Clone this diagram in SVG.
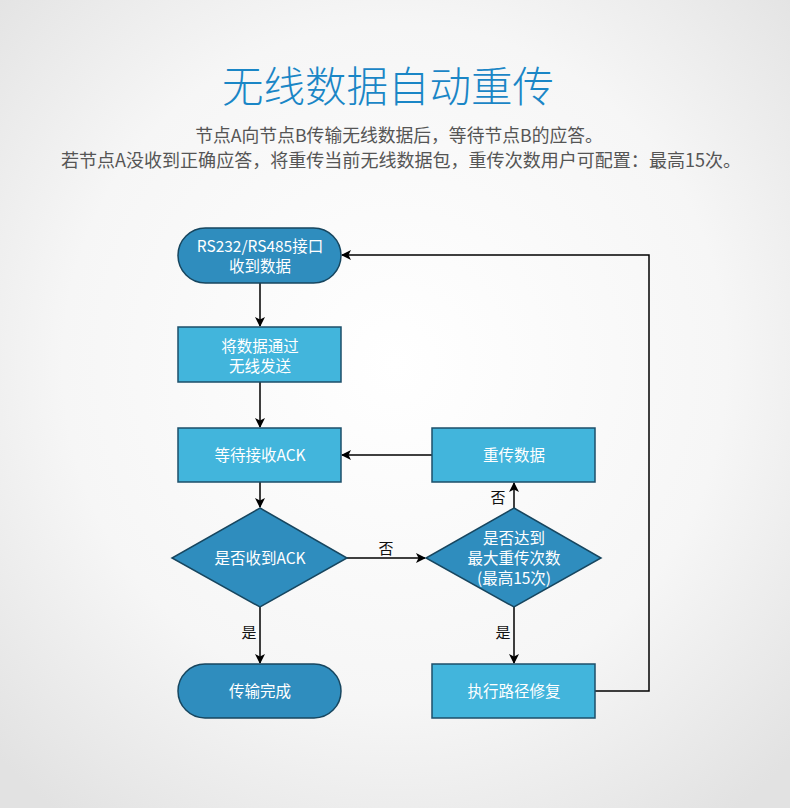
<svg xmlns="http://www.w3.org/2000/svg" width="790" height="808" viewBox="0 0 790 808">
<defs>
<radialGradient id="bg" cx="50%" cy="45%" r="70%">
<stop offset="0" stop-color="#ffffff"/>
<stop offset="0.6" stop-color="#f6f6f6"/>
<stop offset="1" stop-color="#e2e2e2"/>
</radialGradient>
<marker id="arr" viewBox="0 0 10 10" refX="9" refY="5" markerWidth="10" markerHeight="10" markerUnits="userSpaceOnUse" orient="auto">
<path d="M0,0 L10,5 L0,10 L2.5,5 Z" fill="#000"/>
</marker>
<style>
.term{fill:#2f8dbe;stroke:#17465f;stroke-width:1.5}
.box{fill:#42b5dc;stroke:#1d4f6a;stroke-width:1.5}
.dia{fill:#2f8dbe;stroke:#17465f;stroke-width:1.5}
.nt{font-family:"Noto Sans CJK SC","Noto Sans",sans-serif;font-size:15.5px;fill:#fff;text-anchor:middle}
.lb{font-family:"Noto Sans CJK SC","Noto Sans",sans-serif;font-size:15px;fill:#111;text-anchor:middle}
.ln{fill:none;stroke:#000;stroke-width:1.5}
.sub{font-family:"Noto Sans CJK SC","Noto Sans",sans-serif;font-size:17.8px;fill:#555;text-anchor:middle}
</style>
</defs>
<rect width="790" height="808" fill="url(#bg)"/>
<text x="388" y="102" style="font-family:'Noto Sans CJK SC','Noto Sans',sans-serif;font-size:41.5px;fill:#1a86c6;text-anchor:middle;font-weight:300">无线数据自动重传</text>
<text x="399" y="142" class="sub">节点A向节点B传输无线数据后，等待节点B的应答。</text>
<text x="401" y="167" class="sub" style="font-size:18.05px">若节点A没收到正确应答，将重传当前无线数据包，重传次数用户可配置：最高15次。</text>

<g id="connectors">
<line class="ln" x1="260" y1="283" x2="260" y2="326" marker-end="url(#arr)"/>
<line class="ln" x1="260" y1="382" x2="260" y2="427" marker-end="url(#arr)"/>
<line class="ln" x1="260" y1="482" x2="260" y2="507" marker-end="url(#arr)"/>
<line class="ln" x1="260" y1="607" x2="260" y2="663" marker-end="url(#arr)"/>
<line class="ln" x1="347" y1="558" x2="425" y2="558" marker-end="url(#arr)"/>
<line class="ln" x1="514" y1="508" x2="514" y2="483" marker-end="url(#arr)"/>
<line class="ln" x1="432" y1="455" x2="342" y2="455" marker-end="url(#arr)"/>
<line class="ln" x1="514" y1="607" x2="514" y2="663" marker-end="url(#arr)"/>
<polyline class="ln" points="595,691 649,691 649,255 342,255" marker-end="url(#arr)"/>
<text x="386" y="554" class="lb">否</text>
<text x="498" y="503" class="lb">否</text>
<text x="249" y="638" class="lb">是</text>
<text x="503" y="638" class="lb">是</text>
</g>

<g id="start">
<rect class="term" x="178" y="228" width="163" height="55" rx="27.5"/>
<text x="260" y="252" class="nt">RS232/RS485接口</text>
<text x="260" y="272" class="nt">收到数据</text>
</g>
<g id="send">
<rect class="box" x="178" y="327" width="163" height="55"/>
<text x="260" y="352" class="nt">将数据通过</text>
<text x="260" y="372" class="nt">无线发送</text>
</g>
<g id="wait">
<rect class="box" x="178" y="428" width="163" height="54"/>
<text x="260" y="461" class="nt">等待接收ACK</text>
</g>
<g id="check">
<polygon class="dia" points="260,508 347,558 260,607 172,558"/>
<text x="260" y="564" class="nt">是否收到ACK</text>
</g>
<g id="done">
<rect class="term" x="178" y="664" width="163" height="54" rx="27"/>
<text x="260" y="697" class="nt">传输完成</text>
</g>
<g id="resend">
<rect class="box" x="432" y="428" width="163" height="54"/>
<text x="514" y="461" class="nt">重传数据</text>
</g>
<g id="maxcheck">
<polygon class="dia" points="514,508 601,558 514,607 426,558"/>
<text x="514" y="544" class="nt">是否达到</text>
<text x="514" y="564" class="nt">最大重传次数</text>
<text x="514" y="584" class="nt">(最高15次)</text>
</g>
<g id="repair">
<rect class="box" x="432" y="664" width="163" height="54"/>
<text x="514" y="697" class="nt">执行路径修复</text>
</g>
</svg>
